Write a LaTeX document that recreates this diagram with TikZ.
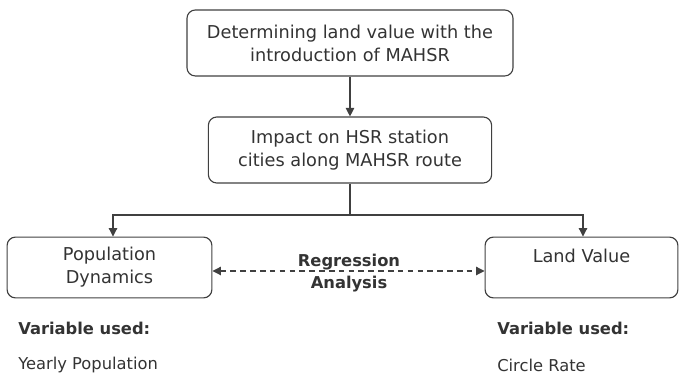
\documentclass[tikz,border=0pt]{standalone}
\usepackage{fontspec}
\setmainfont{DejaVu Sans}
\usetikzlibrary{arrows.meta}

\begin{document}
\begin{tikzpicture}
    [x=0.025cm,y=-0.025cm,
     every node/.style={font=\fontsize{11.6}{16}\selectfont,text=black!80},
     box/.style={draw=black!75,line width=0.8pt,rounded corners=6pt,align=center,inner sep=0pt,
                 font=\fontsize{12.6}{16.5}\selectfont},
     arr/.style={draw=black!75,line width=0.8pt,-{Triangle[length=6pt,width=6pt]}}]
    \useasboundingbox (0,0) rectangle (680,373);
    \node[box,minimum width=8.15cm,minimum height=1.65cm] (aim) at (350,43)
      {Determining land value with the\\introduction of MAHSR};
    \node[box,minimum width=7.08cm,minimum height=1.65cm] (impact) at (350,150)
      {Impact on HSR station\\cities along MAHSR route};
    \node[box,minimum width=5.12cm,minimum height=1.52cm] (pop) at (109.5,267.5)
      {Population\\Dynamics};
    \node[box,minimum width=4.82cm,minimum height=1.52cm] (land) at (581.5,267.5)
      {Land Value\\~};
    \coordinate (split) at (350,215);
    \coordinate (sl) at (113,215);
    \coordinate (sr) at (583,215);
    \draw[arr] (aim) -- (impact);
    \draw[draw=black!75,line width=0.8pt] (impact) -- (split);
    \draw[arr] (split) -- (sl) -- (sl |- pop.north);
    \draw[arr] (split) -- (sr) -- (sr |- land.north);
    \draw[arr,{Triangle[length=6pt,width=6pt]}-{Triangle[length=6pt,width=6pt]},dash pattern=on 4pt off 3pt]
      (pop.east |- 0,271) -- (land.west |- 0,271);
    \node[align=center,font=\fontsize{11.6}{15.5}\selectfont\bfseries] (reg) at (349,273)
      {Regression\\Analysis};
    \node[anchor=west,font=\fontsize{11.6}{14}\selectfont\bfseries,inner sep=0pt] (varl) at (18,328) {Variable used:};
    \node[anchor=west,inner sep=0pt] (yearly) at (18,365) {Yearly Population};
    \node[anchor=west,font=\fontsize{11.6}{14}\selectfont\bfseries,inner sep=0pt] (varr) at (497,328) {Variable used:};
    \node[anchor=west,inner sep=0pt] (circle) at (497,365) {Circle Rate};
\end{tikzpicture}
\end{document}
